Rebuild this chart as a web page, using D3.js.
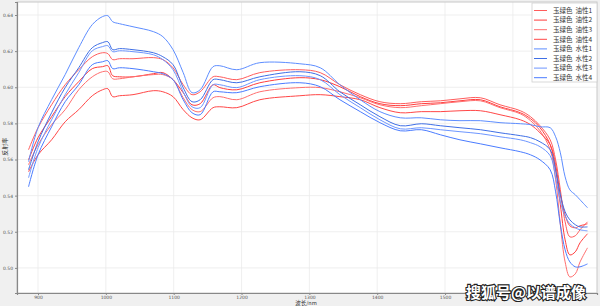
<!DOCTYPE html>
<html>
<head>
<meta charset="utf-8">
<script src="https://cdn.jsdelivr.net/npm/d3@7"></script>
<style>
  body { margin: 0; background: #f0f0f0; }
  text { font-family: "Noto Sans CJK SC", "DejaVu Sans", sans-serif; }
</style>
</head>
<body>
<div id="chart"></div>
<script>
// wavelength (nm)
var wavelengths = [886, 900, 920, 940, 960, 980, 995, 1003, 1010, 1020, 1040, 1070, 1084, 1099, 1114, 1127, 1139, 1158, 1168, 1193, 1227, 1286, 1316, 1345, 1375, 1404, 1434, 1465, 1493, 1522, 1552, 1581, 1611, 1626, 1640, 1655, 1663, 1670, 1677, 1684, 1692, 1699, 1710];

// reflectance series
var oil1 = [0.5654, 0.5776, 0.5903, 0.6014, 0.6097, 0.6169, 0.6191, 0.6186, 0.6153, 0.6158, 0.6158, 0.6164, 0.6153, 0.6108, 0.6014, 0.5959, 0.5975, 0.6058, 0.6058, 0.6042, 0.6081, 0.6097, 0.6081, 0.6014, 0.5959, 0.5920, 0.5909, 0.5920, 0.5925, 0.5936, 0.5942, 0.5903, 0.5870, 0.5837, 0.5787, 0.5709, 0.5598, 0.5432, 0.5255, 0.5172, 0.5178, 0.5211, 0.5255];
var oil2 = [0.5598, 0.5721, 0.5837, 0.5948, 0.6031, 0.6103, 0.6114, 0.6119, 0.6064, 0.6058, 0.6058, 0.6075, 0.6081, 0.6042, 0.5970, 0.5903, 0.5909, 0.6014, 0.5998, 0.5986, 0.6025, 0.6053, 0.6042, 0.6003, 0.5948, 0.5909, 0.5898, 0.5909, 0.5914, 0.5925, 0.5931, 0.5892, 0.5859, 0.5826, 0.5776, 0.5682, 0.5543, 0.5349, 0.5155, 0.5072, 0.5089, 0.5139, 0.5189];
var oil3 = [0.5571, 0.5682, 0.5793, 0.5876, 0.5986, 0.6058, 0.6086, 0.6086, 0.6047, 0.6047, 0.6058, 0.6070, 0.6070, 0.6042, 0.5942, 0.5876, 0.5865, 0.5942, 0.5948, 0.5931, 0.5975, 0.5998, 0.5998, 0.5975, 0.5942, 0.5903, 0.5887, 0.5898, 0.5909, 0.5920, 0.5925, 0.5887, 0.5853, 0.5815, 0.5759, 0.5654, 0.5488, 0.5239, 0.5033, 0.4950, 0.4967, 0.5033, 0.5111];
var oil4 = [0.5532, 0.5626, 0.5709, 0.5809, 0.5876, 0.5953, 0.5986, 0.5992, 0.5948, 0.5953, 0.5959, 0.5981, 0.5975, 0.5948, 0.5876, 0.5831, 0.5820, 0.5887, 0.5892, 0.5887, 0.5931, 0.5953, 0.5959, 0.5948, 0.5931, 0.5887, 0.5859, 0.5865, 0.5865, 0.5870, 0.5870, 0.5848, 0.5820, 0.5793, 0.5748, 0.5682, 0.5571, 0.5405, 0.5294, 0.5233, 0.5222, 0.5233, 0.5244];
var water1 = [0.5588, 0.5776, 0.5931, 0.6070, 0.6219, 0.6347, 0.6391, 0.6396, 0.6363, 0.6352, 0.6335, 0.6308, 0.6280, 0.6208, 0.6081, 0.5970, 0.5986, 0.6114, 0.6119, 0.6097, 0.6136, 0.6130, 0.6108, 0.6014, 0.5931, 0.5865, 0.5831, 0.5831, 0.5820, 0.5815, 0.5815, 0.5804, 0.5798, 0.5793, 0.5781, 0.5776, 0.5726, 0.5637, 0.5504, 0.5432, 0.5405, 0.5377, 0.5333];
var water2 = [0.5543, 0.5698, 0.5859, 0.5998, 0.6108, 0.6219, 0.6247, 0.6252, 0.6208, 0.6214, 0.6208, 0.6191, 0.6169, 0.6125, 0.5998, 0.5920, 0.5931, 0.6042, 0.6042, 0.6025, 0.6058, 0.6086, 0.6064, 0.5975, 0.5903, 0.5837, 0.5787, 0.5798, 0.5787, 0.5776, 0.5765, 0.5748, 0.5732, 0.5721, 0.5698, 0.5654, 0.5543, 0.5405, 0.5311, 0.5266, 0.5239, 0.5227, 0.5227];
var water3 = [0.5499, 0.5665, 0.5820, 0.5959, 0.6081, 0.6202, 0.6225, 0.6230, 0.6197, 0.6202, 0.6197, 0.6180, 0.6153, 0.6097, 0.5975, 0.5892, 0.5887, 0.6014, 0.6014, 0.5998, 0.6042, 0.6064, 0.6042, 0.5959, 0.5887, 0.5820, 0.5770, 0.5776, 0.5765, 0.5754, 0.5743, 0.5726, 0.5709, 0.5693, 0.5671, 0.5621, 0.5499, 0.5366, 0.5288, 0.5244, 0.5222, 0.5211, 0.5205];
var water4 = [0.5449, 0.5626, 0.5781, 0.5920, 0.6014, 0.6125, 0.6141, 0.6147, 0.6103, 0.6108, 0.6103, 0.6086, 0.6075, 0.6042, 0.5931, 0.5859, 0.5848, 0.5975, 0.5975, 0.5970, 0.6003, 0.6025, 0.6003, 0.5931, 0.5865, 0.5804, 0.5759, 0.5765, 0.5737, 0.5709, 0.5687, 0.5665, 0.5643, 0.5626, 0.5598, 0.5543, 0.5421, 0.5239, 0.5100, 0.5033, 0.5006, 0.5006, 0.5022];

var seriesNames = ["玉绿色  油性1", "玉绿色  油性2", "玉绿色  油性3", "玉绿色  油性4", "玉绿色  水性1", "玉绿色  水性2", "玉绿色  水性3", "玉绿色  水性4"];
var seriesValues = [oil1, oil2, oil3, oil4, water1, water2, water3, water4];
var seriesColors = ["#ff5c5c", "#ff3d3d", "#ff6e6e", "#ff4747", "#5d8dff", "#3f6fe6", "#6d96ff", "#4a7cff"];

var xTicks = [900, 1000, 1100, 1200, 1300, 1400, 1500, 1600];
var yTicks = [0.50, 0.52, 0.54, 0.56, 0.58, 0.60, 0.62, 0.64];

var W = 600, H = 306;
var margin = {top: 2, right: 3, bottom: 13, left: 17};
var width = W - margin.left - margin.right,
    height = H - margin.top - margin.bottom;

var svg = d3.select("#chart")
  .append("svg")
    .attr("width", W)
    .attr("height", H)
    .style("display", "block");

svg.append("rect")
  .attr("width", W).attr("height", H)
  .attr("fill", "#f0f0f0");

var g = svg.append("g")
  .attr("transform", "translate(" + margin.left + "," + margin.top + ")");

var x = d3.scaleLinear()
  .domain([869, 1724])
  .range([0, width]);

var y = d3.scaleLinear()
  .domain([0.4861, 0.6472])
  .range([height, 0]);

// plot background
g.append("rect")
  .attr("width", width).attr("height", height)
  .attr("fill", "#ffffff");

// grid
g.append("g").selectAll("line")
  .data(xTicks).enter().append("line")
    .attr("x1", function(d) { return x(d); })
    .attr("x2", function(d) { return x(d); })
    .attr("y1", 0).attr("y2", height)
    .attr("stroke", "#ebebeb").attr("stroke-width", 0.8);

g.append("g").selectAll("line")
  .data(yTicks).enter().append("line")
    .attr("y1", function(d) { return y(d); })
    .attr("y2", function(d) { return y(d); })
    .attr("x1", 0).attr("x2", width)
    .attr("stroke", "#ebebeb").attr("stroke-width", 0.8);

// lines
var line = d3.line()
  .x(function(d, i) { return x(wavelengths[i]); })
  .y(function(d) { return y(d); })
  .curve(d3.curveCatmullRom.alpha(0.5));

g.append("g").selectAll("path")
  .data(seriesValues).enter().append("path")
    .attr("d", line)
    .attr("fill", "none")
    .attr("stroke", function(d, i) { return seriesColors[i]; })
    .attr("stroke-width", 1);

// frame
g.append("rect")
  .attr("width", width).attr("height", height)
  .attr("fill", "none")
  .attr("stroke", "#c8c8c8").attr("stroke-width", 1);

// axes
var xAxis = g.append("g")
  .attr("transform", "translate(0," + height + ")")
  .call(d3.axisBottom(x).tickValues(xTicks).tickFormat(d3.format("d")).tickSize(2).tickPadding(0.5));

var yAxis = g.append("g")
  .call(d3.axisLeft(y).tickValues(yTicks).tickFormat(d3.format(".2f")).tickSize(2).tickPadding(2));

[xAxis, yAxis].forEach(function(a) {
  a.select(".domain").attr("stroke", "#888").attr("stroke-width", 1.2);
  a.selectAll(".tick line").attr("stroke", "#888");
  a.selectAll(".tick text")
    .attr("fill", "#555")
    .style("font-size", "4.5px")
    .style("font-family", "DejaVu Sans, sans-serif");
});

// axis titles
svg.append("text")
  .attr("x", 306)
  .attr("y", 305)
  .attr("text-anchor", "middle")
  .attr("fill", "#333")
  .style("font-size", "5.5px")
  .text("波长/nm");

svg.append("text")
  .attr("transform", "translate(7," + (margin.top + y(0.567)) + ") rotate(-90)")
  .attr("text-anchor", "middle")
  .attr("fill", "#333")
  .style("font-size", "6px")
  .text("反射率");

// legend
var legend = svg.append("g")
  .attr("transform", "translate(532,3)");

legend.append("rect")
  .attr("width", 65).attr("height", 79)
  .attr("fill", "#ffffff")
  .attr("stroke", "#d0d0d0").attr("stroke-width", 0.8);

var item = legend.selectAll(".item")
  .data(seriesNames).enter().append("g")
    .attr("transform", function(d, i) { return "translate(0," + (7.5 + i * 9.6) + ")"; });

item.append("line")
  .attr("x1", 2).attr("x2", 15)
  .attr("stroke", function(d, i) { return seriesColors[i]; })
  .attr("stroke-width", 1);

item.append("text")
  .attr("x", 21).attr("y", 2.3)
  .attr("fill", "#333")
  .style("font-size", "6.5px")
  .style("white-space", "pre")
  .text(function(d) { return d; });

// watermark
svg.append("text")
  .attr("x", 526)
  .attr("y", 298)
  .attr("text-anchor", "middle")
  .attr("fill", "#ffffff")
  .attr("stroke", "#222")
  .attr("stroke-width", 2.2)
  .attr("paint-order", "stroke")
  .style("font-size", "15px")
  .style("font-weight", "bold")
  .text("搜狐号@以谱成像");
</script>
</body>
</html>
